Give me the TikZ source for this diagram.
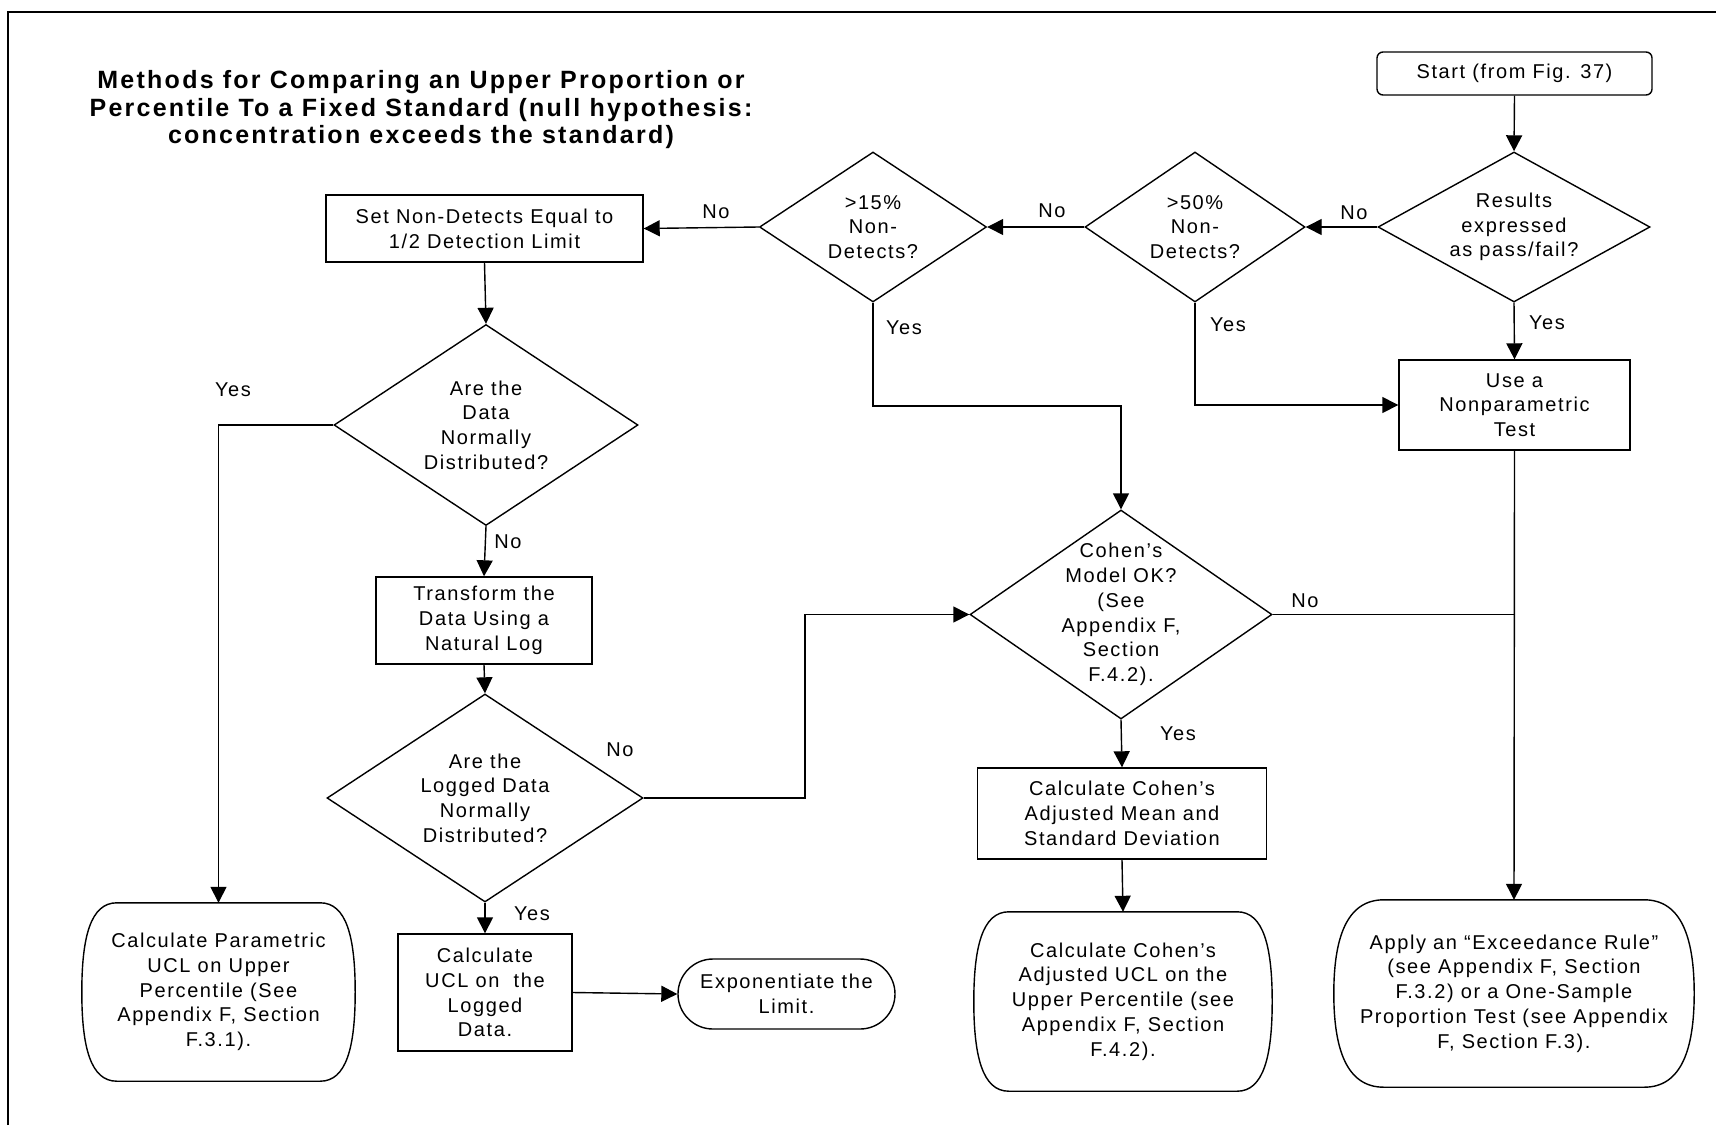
\documentclass[tikz,border=0pt]{standalone}
\usepackage{fontspec}
\newfontfamily\bodyf{Liberation Sans}[LetterSpace=8]
\newfontfamily\titlef{Liberation Sans}[LetterSpace=9]
\usetikzlibrary{shapes.geometric,shapes.misc,arrows.meta,calc}
\tikzset{
  shp/.style={draw, line width=1.4pt},
  txt/.style={font=\bodyf\fontsize{20}{24.7}\selectfont, align=center, inner sep=0pt},
  box/.style={shp, rectangle, txt},
  dia/.style={shp, diamond, inner sep=0pt},
  term/.style={rectangle, txt},
  arr/.style={line width=1.4pt, -{Triangle[length=16pt,width=16pt]}},
  conn/.style={line width=1.4pt},
  lab/.style={txt, anchor=center}
}
\newcommand\termpath[3]{%
  \draw[shp] ($(#1.north west)+(#2,0)$) -- ($(#1.north east)+(-#2,0)$)
    .. controls ($(#1.north east)+(-0.25*#2,0)$) and ($(#1.east)+(0,-#3)$) .. (#1.east)
    .. controls ($(#1.east)+(0,#3)$) and ($(#1.south east)+(-0.25*#2,0)$) .. ($(#1.south east)+(-#2,0)$)
    -- ($(#1.south west)+(#2,0)$)
    .. controls ($(#1.south west)+(0.25*#2,0)$) and ($(#1.west)+(0,#3)$) .. (#1.west)
    .. controls ($(#1.west)+(0,-#3)$) and ($(#1.north west)+(0.25*#2,0)$) .. cycle;}
\begin{document}
\begin{tikzpicture}[x=1pt,y=-1pt]
\useasboundingbox (0,0) rectangle (1716,1125);
\fill[white] (0,0) rectangle (1716,1125);
\draw[line width=2.7pt] (8,1125) -- (8,12) -- (1716,12);

% title
\node[txt, font=\titlef\bfseries\fontsize{25}{27.5}\selectfont] (title) at (421,110)
  {Methods for Comparing an Upper Proportion or\\Percentile To a Fixed Standard (null hypothesis:\\concentration exceeds the standard)};

% nodes
\node[box, rounded corners=6pt, minimum width=275pt, minimum height=43pt] (start) at (1514.5,73.5) {Start (from Fig. 37)};
\node[dia, minimum width=272pt, minimum height=150pt] (res) at (1514,227) {};
\node[txt] (rest) at (res.center) {Results\\expressed\\as pass/fail?};
\node[dia, minimum width=220pt, minimum height=150pt] (p50) at (1195,227) {};
\node[txt] (p50t) at (p50.center) {>50\%\\Non-\\Detects?};
\node[dia, minimum width=227pt, minimum height=150pt] (p15) at (873,227) {};
\node[txt] (p15t) at (p15.center) {>15\%\\Non-\\Detects?};
\node[box, minimum width=317pt, minimum height=67pt] (setnd) at (484.5,228.5) {Set Non-Detects Equal to\\1/2 Detection Limit};
\node[dia, minimum width=304pt, minimum height=201pt] (norm) at (486,425) {};
\node[txt] (normt) at (norm.center) {Are the\\Data\\Normally\\Distributed?};
\node[box, minimum width=216pt, minimum height=87pt] (trans) at (484,620.5) {Transform the\\Data Using a\\Natural Log};
\node[dia, minimum width=316pt, minimum height=208pt] (logd) at (485,798) {};
\node[txt] (logdt) at (logd.center) {Are the\\Logged Data\\Normally\\Distributed?};
\node[box, minimum width=174pt, minimum height=117pt] (calcucl) at (485,992.5) {Calculate\\UCL on~ the\\Logged\\Data.};
\node[shp, rounded rectangle, txt, minimum width=217pt, minimum height=70pt] (expo) at (786.5,994) {Exponentiate the\\Limit.};
\node[term, minimum width=273pt, minimum height=178pt] (param) at (218.5,992) {Calculate Parametric\\UCL on Upper\\Percentile (See\\Appendix F, Section\\F.3.1).};
\node[dia, minimum width=302pt, minimum height=209pt] (cohen) at (1121,614.5) {};
\node[txt] (cohent) at (cohen.center) {Cohen’s\\Model OK?\\(See\\Appendix F,\\Section\\F.4.2).};
\node[box, minimum width=289pt, minimum height=91pt] (cohbox) at (1122,813.5) {Calculate Cohen’s\\Adjusted Mean and\\Standard Deviation};
\node[term, minimum width=298pt, minimum height=179pt] (cohucl) at (1123,1001.5) {Calculate Cohen’s\\Adjusted UCL on the\\Upper Percentile (see\\Appendix F, Section\\F.4.2).};
\node[box, minimum width=231pt, minimum height=90pt] (nonpar) at (1514.5,405) {Use a\\Nonparametric\\Test};
\node[term, minimum width=360pt, minimum height=187pt] (exceed) at (1514,993.5) {Apply an “Exceedance Rule”\\(see Appendix F, Section\\F.3.2) or a One-Sample\\Proportion Test (see Appendix\\F, Section F.3).};

\termpath{param}{35}{55}
\termpath{cohucl}{35}{55}
\termpath{exceed}{50}{55}

% connectors
\draw[arr] (start.south) -- (res.north);
\draw[arr] (res.west) -- (p50.east);
\draw[arr] (p50.west) -- (p15.east);
\draw[arr] (p15.west) -- (setnd.east);
\draw[arr] (setnd.south) -- (norm.north);
\draw[arr] (norm.west) -| (param.north);
\draw[arr] (norm.south) -- (trans.north);
\draw[arr] (trans.south) -- (logd.north);
\coordinate (lbend) at (805,798);
\draw[arr] (logd.east) -- (lbend) |- (cohen.west);
\draw[arr] (logd.south) -- (calcucl.north);
\draw[arr] (calcucl.east) -- (expo.west);
\coordinate (p15bend) at (873,406);
\draw[arr] (p15.south) -- (p15bend) -| (cohen.north);
\draw[arr] (p50.south) |- (nonpar.west);
\draw[arr] (res.south) -- (nonpar.north);
\draw[arr] (nonpar.south) -- (exceed.north);
\coordinate (jn) at (nonpar.south |- cohen.east);
\draw[conn] (cohen.east) -- (jn);
\draw[arr] (cohen.south) -- (cohbox.north);
\draw[arr] (cohbox.south) -- (cohucl.north);

% labels
\node[lab] (l1) at (1354,213) {No};
\node[lab] (l2) at (1052,211) {No};
\node[lab] (l3) at (716,212) {No};
\node[lab] (l4) at (233,390) {Yes};
\node[lab] (l5) at (508,542) {No};
\node[lab] (l6) at (620,750) {No};
\node[lab] (l7) at (532,914) {Yes};
\node[lab] (l8) at (904,328) {Yes};
\node[lab] (l9) at (1228,325) {Yes};
\node[lab] (l10) at (1547,323) {Yes};
\node[lab] (l11) at (1305,601) {No};
\node[lab] (l12) at (1178,734) {Yes};
\end{tikzpicture}
\end{document}
